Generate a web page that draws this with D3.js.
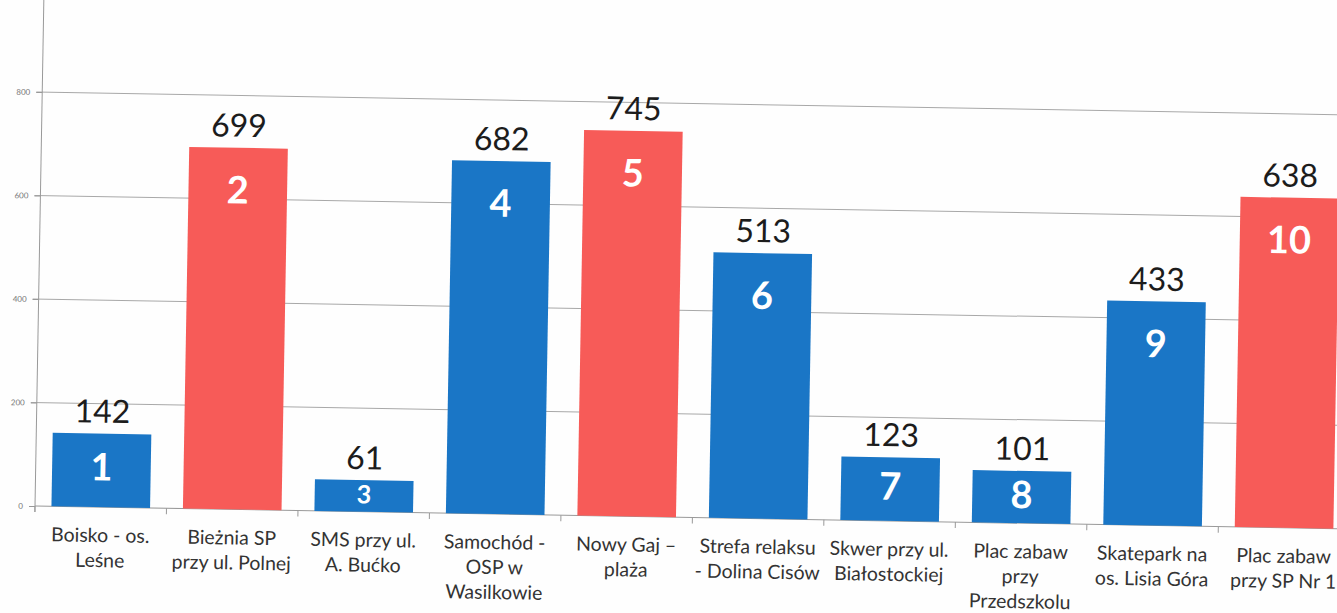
<!DOCTYPE html>
<html>
<head>
<meta charset="utf-8">
<script src="https://cdn.jsdelivr.net/npm/d3@7"></script>
<style>
  html, body { margin: 0; padding: 0; background: #fefefe; }
  svg { display: block; }
</style>
</head>
<body>
<div id="chart"></div>
<script>
'use strict';

// project numbers, vote counts and names (label lines)
const ids = [1, 2, 3, 4, 5, 6, 7, 8, 9, 10];
const votes = [142, 699, 61, 682, 745, 513, 123, 101, 433, 638];
const names = [
    ['Boisko - os.', 'Leśne'],
    ['Bieżnia SP', 'przy ul. Polnej'],
    ['SMS przy ul.', 'A. Bućko'],
    ['Samochód -', 'OSP w', 'Wasilkowie'],
    ['Nowy Gaj –', 'plaża'],
    ['Strefa relaksu', '- Dolina Cisów'],
    ['Skwer przy ul.', 'Białostockiej'],
    ['Plac zabaw', 'przy', 'Przedszkolu'],
    ['Skatepark na', 'os. Lisia Góra'],
    ['Plac zabaw', 'przy SP Nr 1']
];
const redBars = [2, 5, 10];
const yTicks = [0, 200, 400, 600, 800];

const width = 1337;
const height = 613;
const x0 = 35, y0 = 506;

const svg = d3.select('#chart')
    .append('svg')
    .attr('width', width)
    .attr('height', height);

// the source is a slightly tilted scan
const g = svg.append('g')
    .attr('transform', `rotate(1, ${x0}, ${y0})`);

const x = d3.scaleBand()
    .domain(ids)
    .range([x0, x0 + 1315])
    .paddingInner(0.25)
    .paddingOuter(0.125);

const y = d3.scaleLinear()
    .domain([0, 800])
    .range([y0, y0 - 414]);

// gridlines
g.selectAll('.grid')
    .data(yTicks.filter(d => d > 0))
    .enter()
    .append('line')
    .attr('x1', x0 - 6)
    .attr('x2', width + 40)
    .attr('y1', d => y(d))
    .attr('y2', d => y(d))
    .attr('stroke', '#a8a8a8')
    .attr('stroke-width', 1);

// y axis
const yAxis = g.append('g')
    .attr('transform', `translate(${x0},0)`)
    .call(d3.axisLeft(y).tickValues(yTicks).tickSize(6).tickPadding(6));
yAxis.select('.domain').remove();
yAxis.selectAll('.tick line').attr('stroke', '#999');
yAxis.selectAll('.tick text')
    .attr('fill', '#777')
    .style('font-family', 'Lato, sans-serif')
    .style('font-size', '8px');
g.append('line')
    .attr('x1', x0).attr('x2', x0)
    .attr('y1', y0 + 6).attr('y2', -20)
    .attr('stroke', '#999');

// x axis
g.append('line')
    .attr('x1', x0).attr('x2', width + 40)
    .attr('y1', y0).attr('y2', y0)
    .attr('stroke', '#999');
const half = x.step() * x.paddingInner() / 2;
g.selectAll('.xtick')
    .data(ids)
    .enter()
    .append('line')
    .attr('x1', d => x(d) - half)
    .attr('x2', d => x(d) - half)
    .attr('y1', y0)
    .attr('y2', y0 + 6)
    .attr('stroke', '#999');

const data = ids.map((id, i) => ({ id, value: votes[i], name: names[i] }));

const bars = g.selectAll('.bar')
    .data(data)
    .enter()
    .append('g')
    .attr('class', 'bar');

bars.append('rect')
    .attr('x', d => x(d.id))
    .attr('y', d => y(d.value))
    .attr('width', x.bandwidth())
    .attr('height', d => y0 - y(d.value))
    .attr('fill', d => redBars.includes(d.id) ? '#f75b58' : '#1a76c6');

// vote count above bar
bars.append('text')
    .attr('x', d => x(d.id) + x.bandwidth() / 2)
    .attr('y', d => y(d.value) - 11)
    .attr('text-anchor', 'middle')
    .attr('fill', '#1c1c1c')
    .style('font-family', 'Lato, sans-serif')
    .style('font-size', '32px')
    .text(d => d.value);

// project number inside bar
bars.append('text')
    .attr('x', d => x(d.id) + x.bandwidth() / 2)
    .attr('y', d => y(d.value) + Math.min(42, (y0 - y(d.value)) * 0.45))
    .attr('dy', '0.36em')
    .attr('text-anchor', 'middle')
    .attr('fill', '#ffffff')
    .style('font-family', 'Lato, sans-serif')
    .style('font-weight', 'bold')
    .style('font-size', d => Math.min(38, (y0 - y(d.value)) * 0.8) + 'px')
    .text(d => d.id);

// category labels
const labels = bars.append('text')
    .attr('text-anchor', 'middle')
    .attr('fill', '#333')
    .style('font-family', 'Lato, sans-serif')
    .style('font-size', '19.5px');
labels.selectAll('tspan')
    .data(d => d.name.map(line => ({ line, cx: x(d.id) + x.bandwidth() / 2 })))
    .enter()
    .append('tspan')
    .attr('x', t => t.cx)
    .attr('y', (t, i) => y0 + 35 + i * 25)
    .text(t => t.line);
</script>
</body>
</html>
